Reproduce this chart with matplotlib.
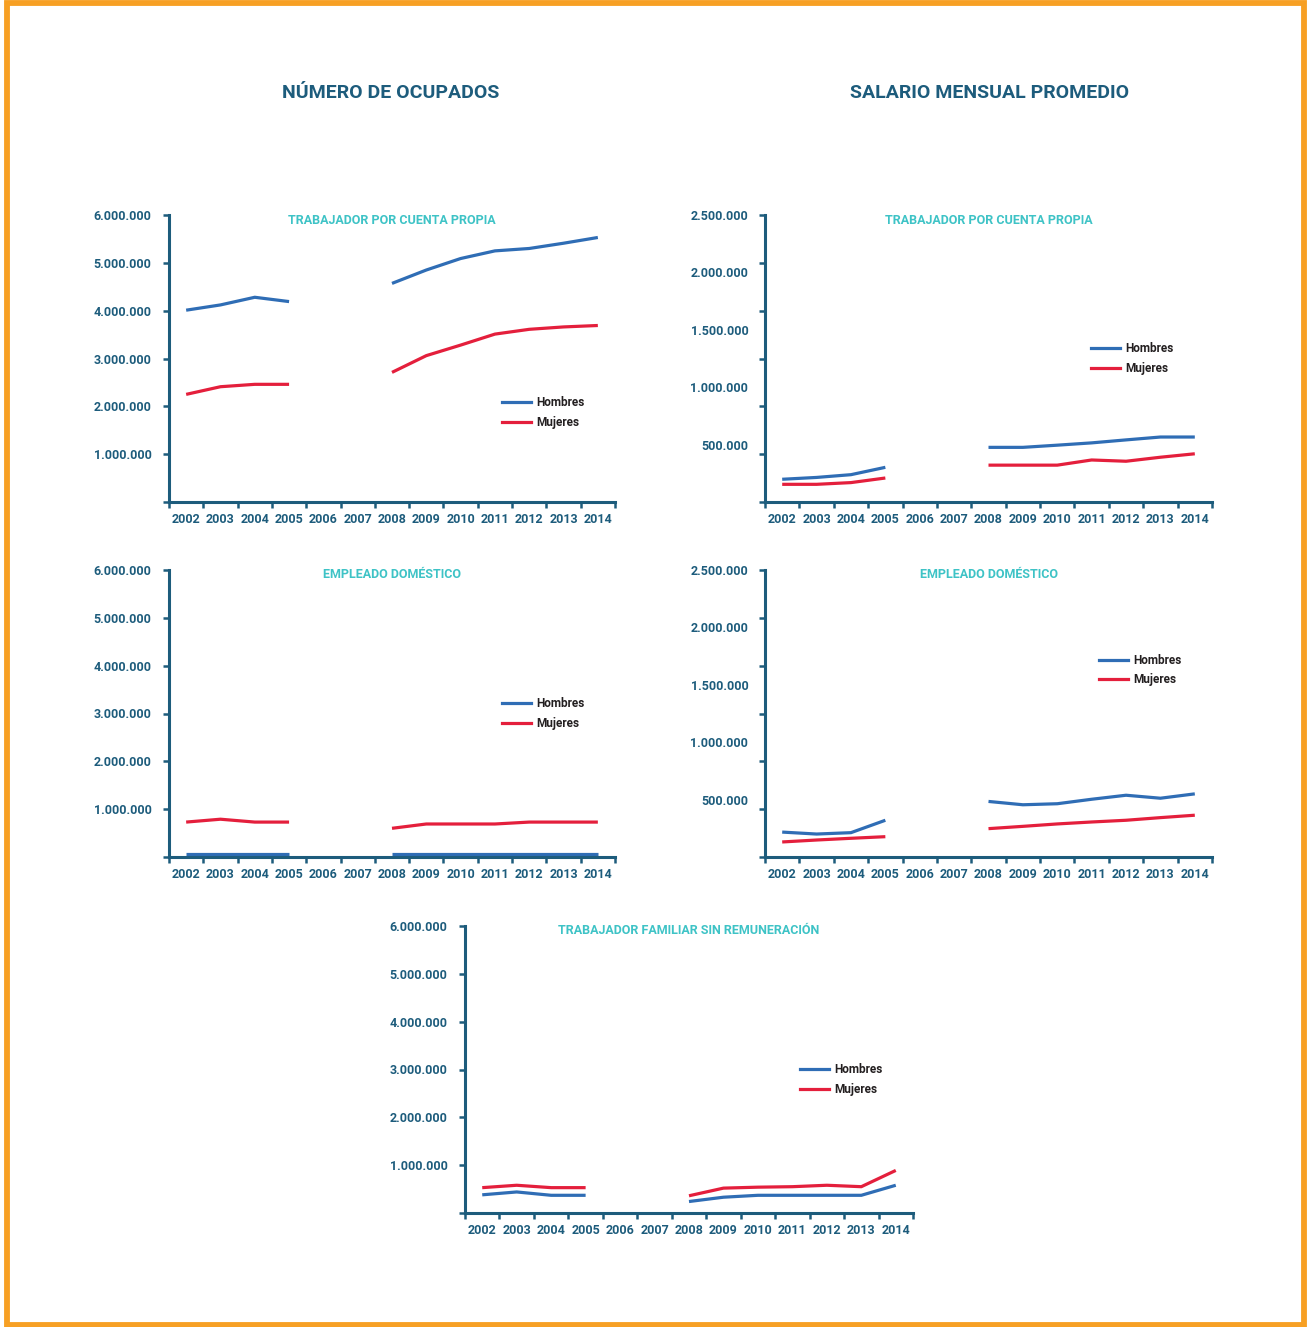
import numpy as np
import matplotlib
matplotlib.use("Agg")
import matplotlib.pyplot as plt
from matplotlib.ticker import FixedLocator, FixedFormatter, NullFormatter
from matplotlib.lines import Line2D
from matplotlib.patches import Rectangle

FONT = ['Roboto', 'DejaVu Sans']
plt.rcParams['font.family'] = FONT
plt.rcParams['font.weight'] = 'bold'

nan = np.nan
years = ['2002', '2003', '2004', '2005', '2006', '2007', '2008',
         '2009', '2010', '2011', '2012', '2013', '2014']

# Número de ocupados
ocup_cp_h = [4.01e6, 4.12e6, 4.28e6, 4.19e6, nan, nan, 4.57e6, 4.85e6, 5.09e6, 5.25e6, 5.30e6, 5.41e6, 5.53e6]
ocup_cp_m = [2.25e6, 2.41e6, 2.46e6, 2.46e6, nan, nan, 2.71e6, 3.06e6, 3.28e6, 3.51e6, 3.61e6, 3.66e6, 3.69e6]
ocup_dom_h = [0.07e6, 0.07e6, 0.07e6, 0.07e6, nan, nan, 0.07e6, 0.07e6, 0.07e6, 0.07e6, 0.07e6, 0.07e6, 0.07e6]
ocup_dom_m = [0.73e6, 0.79e6, 0.73e6, 0.73e6, nan, nan, 0.60e6, 0.69e6, 0.69e6, 0.69e6, 0.73e6, 0.73e6, 0.73e6]
ocup_fam_h = [0.38e6, 0.44e6, 0.37e6, 0.37e6, nan, nan, 0.24e6, 0.33e6, 0.37e6, 0.37e6, 0.37e6, 0.37e6, 0.58e6]
ocup_fam_m = [0.53e6, 0.58e6, 0.53e6, 0.53e6, nan, nan, 0.36e6, 0.52e6, 0.54e6, 0.55e6, 0.58e6, 0.55e6, 0.89e6]

# Salario mensual promedio
sal_cp_h = [198e3, 214e3, 238e3, 302e3, nan, nan, 476e3, 476e3, 495e3, 515e3, 541e3, 566e3, 566e3]
sal_cp_m = [154e3, 154e3, 169e3, 209e3, nan, nan, 321e3, 321e3, 321e3, 366e3, 355e3, 390e3, 420e3]
sal_dom_h = [217e3, 200e3, 212e3, 320e3, nan, nan, 484e3, 455e3, 464e3, 503e3, 538e3, 512e3, 550e3]
sal_dom_m = [131e3, 148e3, 163e3, 177e3, nan, nan, 247e3, 267e3, 288e3, 305e3, 320e3, 343e3, 364e3]

ocup_ticks = [0, 1e6, 2e6, 3e6, 4e6, 5e6, 6e6]
ocup_labels = ['', '1.000.000', '2.000.000', '3.000.000', '4.000.000', '5.000.000', '6.000.000']
sal_label_vals = [500e3, 1000e3, 1500e3, 2000e3, 2500e3]
sal_labels = ['500.000', '1.000.000', '1.500.000', '2.000.000', '2.500.000']

AX = '#1D5C7C'
SUB = '#3EC3C6'
C_H = '#2F6DB5'
C_M = '#E41F3C'
ORANGE = '#F7A024'
TICKFS = 9

W, H = 1307, 1327
fig = plt.figure(figsize=(W / 100, H / 100), dpi=100)


def rect(x0, y0, x1, y1):
    return [x0 / W, 1 - y1 / H, (x1 - x0) / W, (y1 - y0) / H]


def make_chart(box, title, h, m, ymax, kind, leg_xy):
    ax = fig.add_axes(rect(*box))
    x = np.arange(len(years))
    ax.plot(x, h, color=C_H, lw=2.3, solid_capstyle='butt')
    ax.plot(x, m, color=C_M, lw=2.3, solid_capstyle='butt')
    ax.set_xlim(-0.5, len(years) - 0.5)
    ax.set_ylim(0, ymax)
    for s in ['top', 'right']:
        ax.spines[s].set_visible(False)
    for s in ['left', 'bottom']:
        ax.spines[s].set_color(AX)
        ax.spines[s].set_linewidth(2.2)
    ax.xaxis.remove_overlapping_locs = False
    ax.yaxis.remove_overlapping_locs = False
    # x: ticks at category boundaries, labels at centers
    ax.xaxis.set_major_locator(FixedLocator(np.arange(-0.5, len(years), 1.0)))
    ax.xaxis.set_major_formatter(NullFormatter())
    ax.xaxis.set_minor_locator(FixedLocator(x))
    ax.xaxis.set_minor_formatter(FixedFormatter(years))
    ax.tick_params(axis='x', which='major', length=4.5, width=1.8, color=AX, direction='out')
    ax.tick_params(axis='x', which='minor', length=0, pad=8, labelsize=TICKFS, labelcolor=AX)
    if kind == 'ocup':
        ax.yaxis.set_major_locator(FixedLocator(ocup_ticks))
        ax.yaxis.set_major_formatter(FixedFormatter(ocup_labels))
        ax.tick_params(axis='y', which='major', length=4.5, width=1.8, color=AX,
                       pad=8, labelsize=TICKFS, labelcolor=AX)
    else:
        ax.yaxis.set_major_locator(FixedLocator(np.linspace(0, ymax, 7)))
        ax.yaxis.set_major_formatter(NullFormatter())
        ax.yaxis.set_minor_locator(FixedLocator(sal_label_vals))
        ax.yaxis.set_minor_formatter(FixedFormatter(sal_labels))
        ax.tick_params(axis='y', which='major', length=4.5, width=1.8, color=AX)
        ax.tick_params(axis='y', which='minor', length=0, pad=12, labelsize=TICKFS, labelcolor=AX)
    for lab in ax.get_xticklabels(minor=True) + ax.get_yticklabels() + ax.get_yticklabels(minor=True):
        lab.set_fontweight('bold')
    ax.text(0.5, 1 - 5 / 287, title, transform=ax.transAxes, ha='center', va='center',
            color=SUB, fontsize=9, fontweight='bold')
    handles = [Line2D([], [], color=C_H, lw=2.3), Line2D([], [], color=C_M, lw=2.3)]
    lx, ly = leg_xy
    fx = (lx - box[0]) / (box[2] - box[0])
    fy = (box[3] - ly) / (box[3] - box[1])
    leg = ax.legend(handles, ['Hombres', 'Mujeres'], loc='center left', bbox_to_anchor=(fx, fy),
                    frameon=False, borderpad=0, borderaxespad=0, handlelength=2.45,
                    handletextpad=0.42, labelspacing=0.55,
                    prop={'family': FONT, 'weight': 'bold', 'size': 8.5})
    for t in leg.get_texts():
        t.set_color('#231F20')
    return ax


make_chart((169, 215, 615, 502), 'TRABAJADOR POR CUENTA PROPIA', ocup_cp_h, ocup_cp_m, 6e6, 'ocup', (502, 412.5))
make_chart((765, 215, 1212, 502), 'TRABAJADOR POR CUENTA PROPIA', sal_cp_h, sal_cp_m, 2.5e6, 'sal', (1091, 358.5))
make_chart((169, 570, 615, 857), 'EMPLEADO DOMÉSTICO', ocup_dom_h, ocup_dom_m, 6e6, 'ocup', (502, 713.5))
make_chart((765, 570, 1212, 857), 'EMPLEADO DOMÉSTICO', sal_dom_h, sal_dom_m, 2.5e6, 'sal', (1099, 670))
make_chart((465, 926, 913, 1213), 'TRABAJADOR FAMILIAR SIN REMUNERACIÓN', ocup_fam_h, ocup_fam_m, 6e6, 'ocup', (800, 1079.5))

fig.text(391 / W, 1 - 93 / H, 'NÚMERO DE OCUPADOS', ha='center', va='center',
         color=AX, fontsize=14, fontweight='bold')
fig.text(990 / W, 1 - 93 / H, 'SALARIO MENSUAL PROMEDIO', ha='center', va='center',
         color=AX, fontsize=14, fontweight='bold')

fig.patches.append(Rectangle((7 / W, 2.5 / H), (1304 - 7) / W, (1324.5 - 2.5) / H,
                             transform=fig.transFigure, fill=False, edgecolor=ORANGE,
                             linewidth=4.2, zorder=10))

fig.savefig('out.png', dpi=100, facecolor='white')
